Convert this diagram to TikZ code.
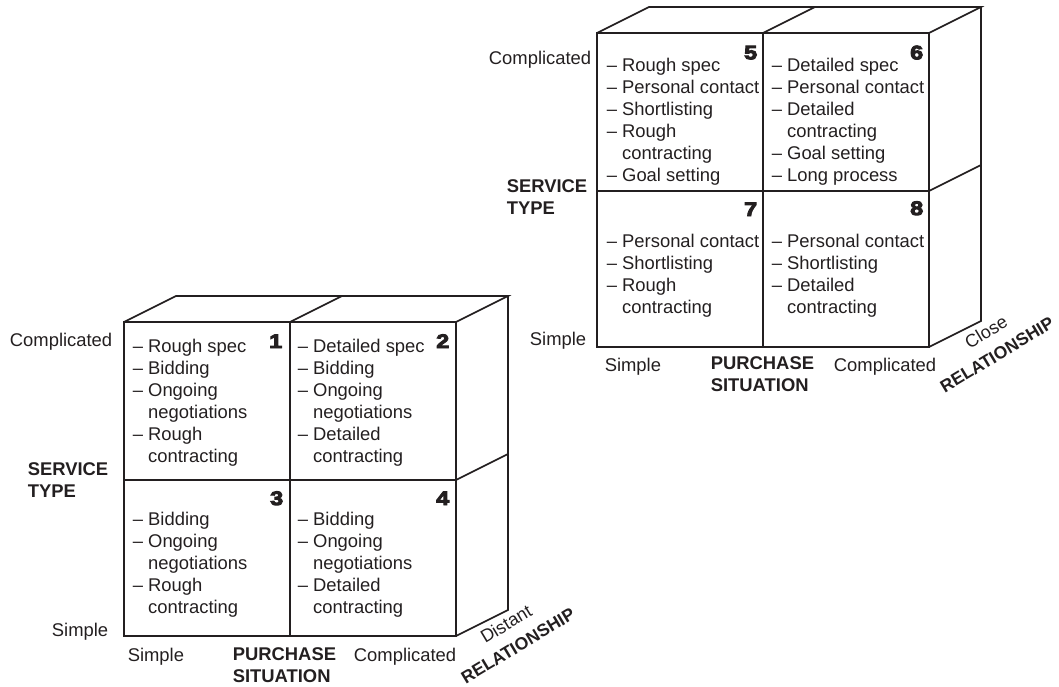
\documentclass[tikz,border=0pt]{standalone}
\usepackage{fontspec}
\setmainfont{Liberation Sans}
\newfontfamily\heavyfont[FakeBold=5,FakeStretch=1.2]{Liberation Sans Bold}
\usepackage{tikz}
\definecolor{ink}{HTML}{231F20}
\newcommand{\dsh}{–\kern0.28em}

\begin{document}
\begin{tikzpicture}[x=1pt,y=-1pt,line width=1.6pt,draw=ink,
  every node/.style={inner sep=0pt,text=ink,font=\fontsize{18.4}{22}\selectfont},
  cell/.style={anchor=base west},
  num/.style={anchor=base east,font=\heavyfont\fontsize{19.5}{22}\selectfont},
  axis/.style={anchor=base west,font=\bfseries\fontsize{18.4}{22}\selectfont},
  rel/.style={rotate=31,font=\fontsize{18}{20}\selectfont},
  relbold/.style={rotate=31,font=\bfseries\fontsize{17.5}{20}\selectfont}]
\useasboundingbox (0,0) rectangle (1059,687);

% the two cubes
\foreach \ox/\oy in {124/322,597/33}
{
\begin{scope}[shift={(\ox,\oy)}]
\draw (0,0) rectangle (332,314);
\draw (166,0) -- (166,314);
\draw (0,158) -- (332,158);
\draw (0,0) -- (52,-26) -- (384,-26) -- (332,0);
\draw (166,0) -- (218,-26);
\draw (332,314) -- (384,288) -- (384,-26);
\draw (332,158) -- (384,132);
\end{scope}
}

% distant relationship
\node[cell] (c1) at (132,352.7) {\begin{tabular}[t]{@{}l@{}l@{}}
\dsh & Rough spec\\ \dsh & Bidding\\ \dsh & Ongoing\\ & negotiations\\ \dsh & Rough\\ & contracting\end{tabular}};
\node[cell] (c2) at (297,352.7) {\begin{tabular}[t]{@{}l@{}l@{}}
\dsh & Detailed spec\\ \dsh & Bidding\\ \dsh & Ongoing\\ & negotiations\\ \dsh & Detailed\\ & contracting\end{tabular}};
\node[cell] (c3) at (132,525) {\begin{tabular}[t]{@{}l@{}l@{}}
\dsh & Bidding\\ \dsh & Ongoing\\ & negotiations\\ \dsh & Rough\\ & contracting\end{tabular}};
\node[cell] (c4) at (297,525) {\begin{tabular}[t]{@{}l@{}l@{}}
\dsh & Bidding\\ \dsh & Ongoing\\ & negotiations\\ \dsh & Detailed\\ & contracting\end{tabular}};
\node[num] (n1) at (283,348) {1};
\node[num] (n2) at (450,348) {2};
\node[num] (n3) at (284,505) {3};
\node[num] (n4) at (450,505) {4};

\node[anchor=base east] (hi1) at (113,346) {Complicated};
\node[anchor=base east] (lo1) at (109,636) {Simple};
\node[axis] (st1) at (27,475) {\begin{tabular}[t]{@{}l@{}}SERVICE\\TYPE\end{tabular}};
\node[anchor=base west] (ls1) at (127,661.7) {Simple};
\node[axis] (ps1) at (232,660) {\begin{tabular}[t]{@{}l@{}}PURCHASE\\SITUATION\end{tabular}};
\node[anchor=base east] (lc1) at (457,661.7) {Complicated};
\node[rel] (d1) at (506,624) {Distant};
\node[relbold] (r1) at (518,646) {RELATIONSHIP};

% close relationship
\node[cell] (c5) at (606,71.5) {\begin{tabular}[t]{@{}l@{}l@{}}
\dsh & Rough spec\\ \dsh & Personal contact\\ \dsh & Shortlisting\\ \dsh & Rough\\ & contracting\\ \dsh & Goal setting\end{tabular}};
\node[cell] (c6) at (771,71.5) {\begin{tabular}[t]{@{}l@{}l@{}}
\dsh & Detailed spec\\ \dsh & Personal contact\\ \dsh & Detailed\\ & contracting\\ \dsh & Goal setting\\ \dsh & Long process\end{tabular}};
\node[cell] (c7) at (606,247.7) {\begin{tabular}[t]{@{}l@{}l@{}}
\dsh & Personal contact\\ \dsh & Shortlisting\\ \dsh & Rough\\ & contracting\end{tabular}};
\node[cell] (c8) at (771,247.7) {\begin{tabular}[t]{@{}l@{}l@{}}
\dsh & Personal contact\\ \dsh & Shortlisting\\ \dsh & Detailed\\ & contracting\end{tabular}};
\node[num] (n5) at (758,59.3) {5};
\node[num] (n6) at (924,59.3) {6};
\node[num] (n7) at (758,216) {7};
\node[num] (n8) at (924,215) {8};

\node[anchor=base east] (hi2) at (592,65) {Complicated};
\node[anchor=base east] (lo2) at (587,345.7) {Simple};
\node[axis] (st2) at (506,192.5) {\begin{tabular}[t]{@{}l@{}}SERVICE\\TYPE\end{tabular}};
\node[anchor=base west] (ls2) at (604,371.7) {Simple};
\node[axis] (ps2) at (710,369.3) {\begin{tabular}[t]{@{}l@{}}PURCHASE\\SITUATION\end{tabular}};
\node[anchor=base east] (lc2) at (937,371.7) {Complicated};
\node[rel] (d2) at (986,332) {Close};
\node[relbold] (r2) at (997,355) {RELATIONSHIP};
\end{tikzpicture}
\end{document}
